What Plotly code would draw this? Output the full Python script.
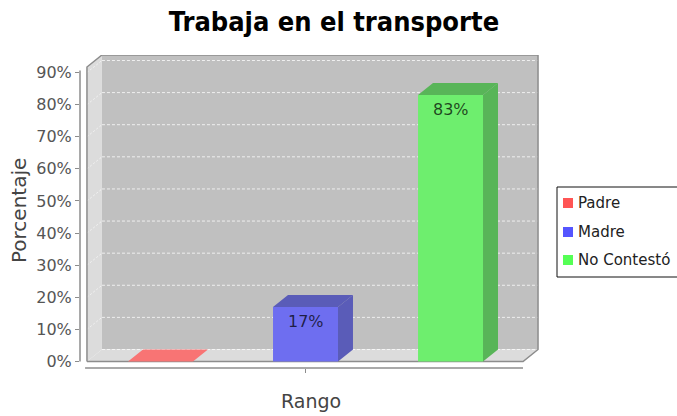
import plotly.graph_objects as go

# ---- data -------------------------------------------------------------
categories = ["Padre", "Madre", "No Contestó"]
values = [0, 17, 83]
y_ticks = [0, 10, 20, 30, 40, 50, 60, 70, 80, 90]
y_tick_labels = [f"{v}%" for v in y_ticks]

# ---- styling ----------------------------------------------------------
front_colors = ["#f87474", "#6e6ef0", "#6eee6e"]
shade_colors = ["#d86060", "#5a5cb8", "#58b558"]
legend_colors = ["#ff5555", "#5555ff", "#55ff55"]

W, H = 677, 416
ML, MR, MT, MB = 80, 137, 55, 48
PW, PH = W - ML - MR, H - MT - MB

X_RANGE = [-0.555, 2.617]
Y_RANGE = [-2.024, 95.45]
BAR_W = 0.448            # bar width in category units
DX, DY = 0.1034, 3.74    # 3-D depth offset (x in category units, y in %)
XL, XR = -0.507, 2.5     # front edges of the floor
Y_TOP = Y_RANGE[1]
Y_FRONT_TOP = Y_TOP - DY

EDGE = "#8c8c8c"
WALL = "#dcdcdc"
BACK = "#c0c0c0"
FONT = "DejaVu Sans"


def paper_x(px):
    return (px - ML) / PW


def paper_y(py):
    return (H - MB - py) / PH


def poly(pts):
    return "M " + " L ".join(f"{x},{y}" for x, y in pts) + " Z"


shapes = []
# back wall
shapes.append(dict(type="rect", xref="x", yref="y", layer="below",
                   x0=XL + DX, x1=XR + DX, y0=DY, y1=Y_TOP,
                   fillcolor=BACK, line=dict(width=0)))
# left wall
shapes.append(dict(type="path", xref="x", yref="y", layer="below",
                   path=poly([(XL, 0), (XL, Y_FRONT_TOP), (XL + DX, Y_TOP), (XL + DX, DY)]),
                   fillcolor=WALL, line=dict(width=0)))
# floor
shapes.append(dict(type="path", xref="x", yref="y", layer="below",
                   path=poly([(XL, 0), (XR, 0), (XR + DX, DY), (XL + DX, DY)]),
                   fillcolor=WALL, line=dict(width=0)))
# dashed gridlines on the back wall and the left wall
for v in y_ticks:
    shapes.append(dict(type="line", xref="x", yref="y", layer="below",
                       x0=XL + DX, x1=XR + DX, y0=v + DY, y1=v + DY,
                       line=dict(color="rgba(255,255,255,0.75)", width=1, dash="3px,2px")))
    if v > 0:
        shapes.append(dict(type="line", xref="x", yref="y", layer="below",
                           x0=XL, x1=XL + DX, y0=v, y1=v + DY,
                           line=dict(color="rgba(255,255,255,0.6)", width=1, dash="2px,2px")))
# box outline
shapes.append(dict(type="path", xref="x", yref="y", layer="below",
                   path="M " + " L ".join(f"{x},{y}" for x, y in [
                       (XL, 0), (XL, Y_FRONT_TOP), (XL + DX, Y_TOP), (XR + DX, Y_TOP),
                       (XR + DX, DY), (XR, 0), (XL, 0)]),
                   line=dict(color=EDGE, width=1.5)))
# value axis line and category axis line
shapes.append(dict(type="line", xref="paper", yref="y", x0=0, x1=0, y0=0, y1=90.6,
                   line=dict(color=EDGE, width=1.5)))
shapes.append(dict(type="line", xref="x", yref="paper", x0=-0.52, x1=XR, y0=0, y1=0,
                   line=dict(color=EDGE, width=1.5)))

fig = go.Figure()

# side and top faces of each bar
for i, v in enumerate(values):
    xl, xr = i - BAR_W / 2, i + BAR_W / 2
    fig.add_trace(go.Scatter(
        x=[xr, xr + DX, xr + DX, xr, xr], y=[0, DY, v + DY, v, 0],
        mode="lines", fill="toself", fillcolor=shade_colors[i],
        line=dict(width=0), hoverinfo="skip", showlegend=False))
    top_color = front_colors[i] if v == 0 else shade_colors[i]
    fig.add_trace(go.Scatter(
        x=[xl, xl + DX, xr + DX, xr, xl], y=[v, v + DY, v + DY, v, v],
        mode="lines", fill="toself", fillcolor=top_color,
        line=dict(width=0), hoverinfo="skip", showlegend=False))

# front faces
fig.add_trace(go.Bar(
    x=list(range(len(categories))), y=values, width=BAR_W,
    marker=dict(color=front_colors, line=dict(width=0)),
    hovertext=categories, showlegend=False))

annotations = []
# value labels inside the bars
for i, v in enumerate(values):
    if v > 0:
        annotations.append(dict(x=i, y=v, xref="x", yref="y", text=f"{v}%",
                                showarrow=False, yshift=-15,
                                font=dict(family=FONT, size=16,
                                          color="rgba(0,0,0,0.72)")))

# axis titles
annotations.append(dict(x=paper_x(19), y=paper_y(210), xref="paper", yref="paper",
                        xanchor="center", yanchor="middle",
                        text="Porcentaje", textangle=-90, showarrow=False,
                        font=dict(family=FONT, size=20, color="#444444")))
annotations.append(dict(x=paper_x(311), y=paper_y(401), xref="paper", yref="paper",
                        xanchor="center", yanchor="middle",
                        text="Rango", showarrow=False,
                        font=dict(family=FONT, size=19, color="#444444")))

# legend
shapes.append(dict(type="rect", xref="paper", yref="paper",
                   x0=paper_x(557), x1=paper_x(700), y0=paper_y(277), y1=paper_y(187),
                   fillcolor="white", line=dict(color="#111111", width=1)))
legend_rows = [203, 232, 260]
for name, col, py in zip(categories, legend_colors, legend_rows):
    shapes.append(dict(type="rect", xref="paper", yref="paper",
                       x0=paper_x(563), x1=paper_x(573), y0=paper_y(py + 5), y1=paper_y(py - 5),
                       fillcolor=col, line=dict(width=0)))
    annotations.append(dict(x=paper_x(576), y=paper_y(py), xref="paper", yref="paper",
                            text=name, showarrow=False, xanchor="left", yanchor="middle",
                            font=dict(family=FONT, size=15, color="#222222")))

fig.update_layout(
    width=W, height=H,
    margin=dict(l=ML, r=MR, t=MT, b=MB),
    paper_bgcolor="white", plot_bgcolor="rgba(0,0,0,0)",
    title=dict(text="<b>Trabaja en el transporte</b>", x=334 / W, xanchor="center",
               y=1 - 22 / H, yanchor="middle",
               font=dict(family="DejaVu Sans Condensed, DejaVu Sans, sans-serif",
                         size=27, color="black")),
    xaxis=dict(range=X_RANGE, showgrid=False, zeroline=False, showline=False,
               tickvals=[1], ticktext=[""], ticks="outside", ticklen=4,
               tickcolor=EDGE, fixedrange=True),
    yaxis=dict(range=Y_RANGE, showgrid=False, zeroline=False, showline=False,
               tickvals=y_ticks, ticktext=y_tick_labels, ticks="outside", ticklen=4,
               tickcolor=EDGE, tickfont=dict(family=FONT, size=16, color="#555555"),
               fixedrange=True),
    shapes=shapes,
    annotations=annotations,
    showlegend=False,
)

fig.write_html("out.html")
